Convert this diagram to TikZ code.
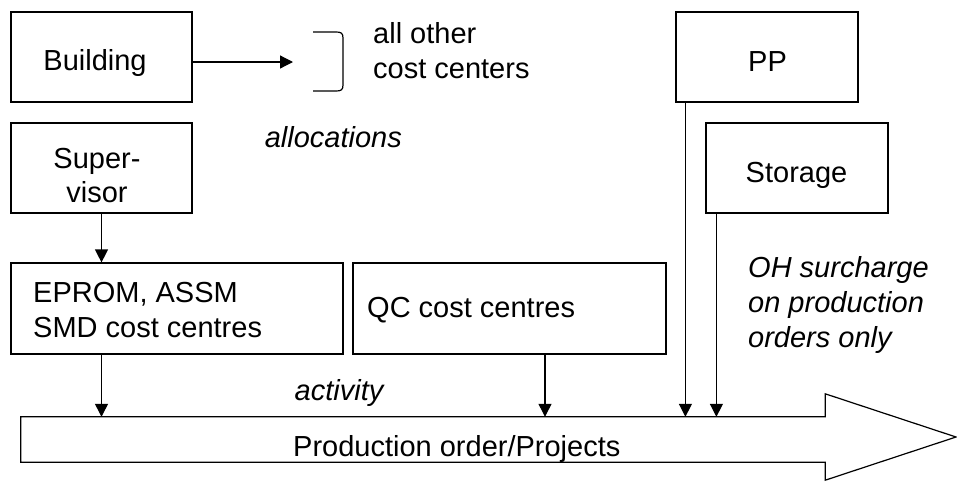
\documentclass[tikz,border=0pt]{standalone}
\usepackage{fontspec}
\setmainfont{Liberation Sans}
\usetikzlibrary{arrows.meta,calc}
\newcommand\mytwoc[2]{\vtop{\baselineskip=34pt\halign{\hfil##\hfil\cr#1\cr#2\cr}}}
\newcommand\mytwol[3]{\vtop{\baselineskip=#1\halign{##\hfil\cr#2\cr#3\cr}}}
\newcommand\mythreel[3]{\vtop{\baselineskip=35pt\halign{##\hfil\cr#1\cr#2\cr#3\cr}}}
\begin{document}
\begin{tikzpicture}[x=1pt,y=-1pt,
  box/.style={draw, line width=1.2pt, inner sep=0pt},
  txt/.style={inner sep=0pt, font=\fontsize{29}{35}\selectfont},
  itxt/.style={txt, font=\fontsize{29}{35}\selectfont\itshape},
  conn/.style={line width=1.2pt, -{Triangle[length=13pt,width=13pt]}},
  plain/.style={line width=1.2pt}]
\useasboundingbox (0,0) rectangle (957,482);
\fill[white] (0,0) rectangle (957,482);
% boxes
\node[box, minimum width=181pt, minimum height=90pt] (building) at (101.5,57) {};
\node[box, minimum width=181pt, minimum height=90pt] (sup) at (101.5,168) {};
\node[box, minimum width=182pt, minimum height=90pt] (pp) at (767,57) {};
\node[box, minimum width=182pt, minimum height=90pt] (storage) at (797,168) {};
\node[box, minimum width=332pt, minimum height=91pt] (eprom) at (177,308.5) {};
\node[box, minimum width=313pt, minimum height=91pt] (qc) at (509.5,308.5) {};
% production arrow
\node[inner sep=0pt, minimum width=804pt, minimum height=45pt] (body) at (423,439.5) {};
\draw[plain, line join=miter] (body.north west) -- (body.north east) -- ++(0,-23) -- (956,437) -- ($(body.south east)+(0,18)$) -- (body.south east) -- (body.south west) -- cycle;
% texts
\node[txt, anchor=base] (tbuilding) at (95,70) {Building};
\node[txt, anchor=base] (tpp) at (767.5,71) {PP};
\node[txt, anchor=base] (tstorage) at (796.5,182) {Storage};
\node[txt, anchor=base] (tsup) at (97,168) {\mytwoc{Super-}{visor}};
\node[txt, anchor=base west] (teprom) at (33,302) {\mytwol{35pt}{EPROM, ASSM}{SMD cost centres}};
\node[txt, anchor=base west] (tqc) at (367,317) {QC cost centres};
\node[txt, anchor=base west] (tother) at (373,43) {\mytwol{35pt}{all other}{cost centers}};
\node[itxt, anchor=base east] (talloc) at (402,147) {allocations};
\node[itxt, anchor=base] (tact) at (339,400) {activity};
\node[itxt, anchor=base west] (toh) at (748,277) {\mythreel{OH surcharge}{on production}{orders only}};
\node[txt, anchor=base west] (tprod) at (293,456) {Production order/Projects};
% bracket
\draw[plain] (313,32) -- (336,32) .. controls (341,32) and (343,33) .. (343,38) -- (343,85) .. controls (343,90) and (341,91) .. (336,91) -- (313,91);
% connectors
\coordinate (bin) at (293,62);
\draw[conn] ([yshift=-5pt]building.east) -- (bin);
\draw[conn] (sup.south) -- (sup.south |- eprom.north);
\draw[conn] (sup.south |- eprom.south) -- (sup.south |- body.north);
\draw[conn] ([xshift=35.5pt]qc.south) -- ([xshift=35.5pt]qc.south |- body.north);
\draw[conn] ([xshift=10pt]pp.south west) -- ([xshift=10pt]pp.south west |- body.north);
\draw[conn] ([xshift=11pt]storage.south west) -- ([xshift=11pt]storage.south west |- body.north);
\end{tikzpicture}
\end{document}
